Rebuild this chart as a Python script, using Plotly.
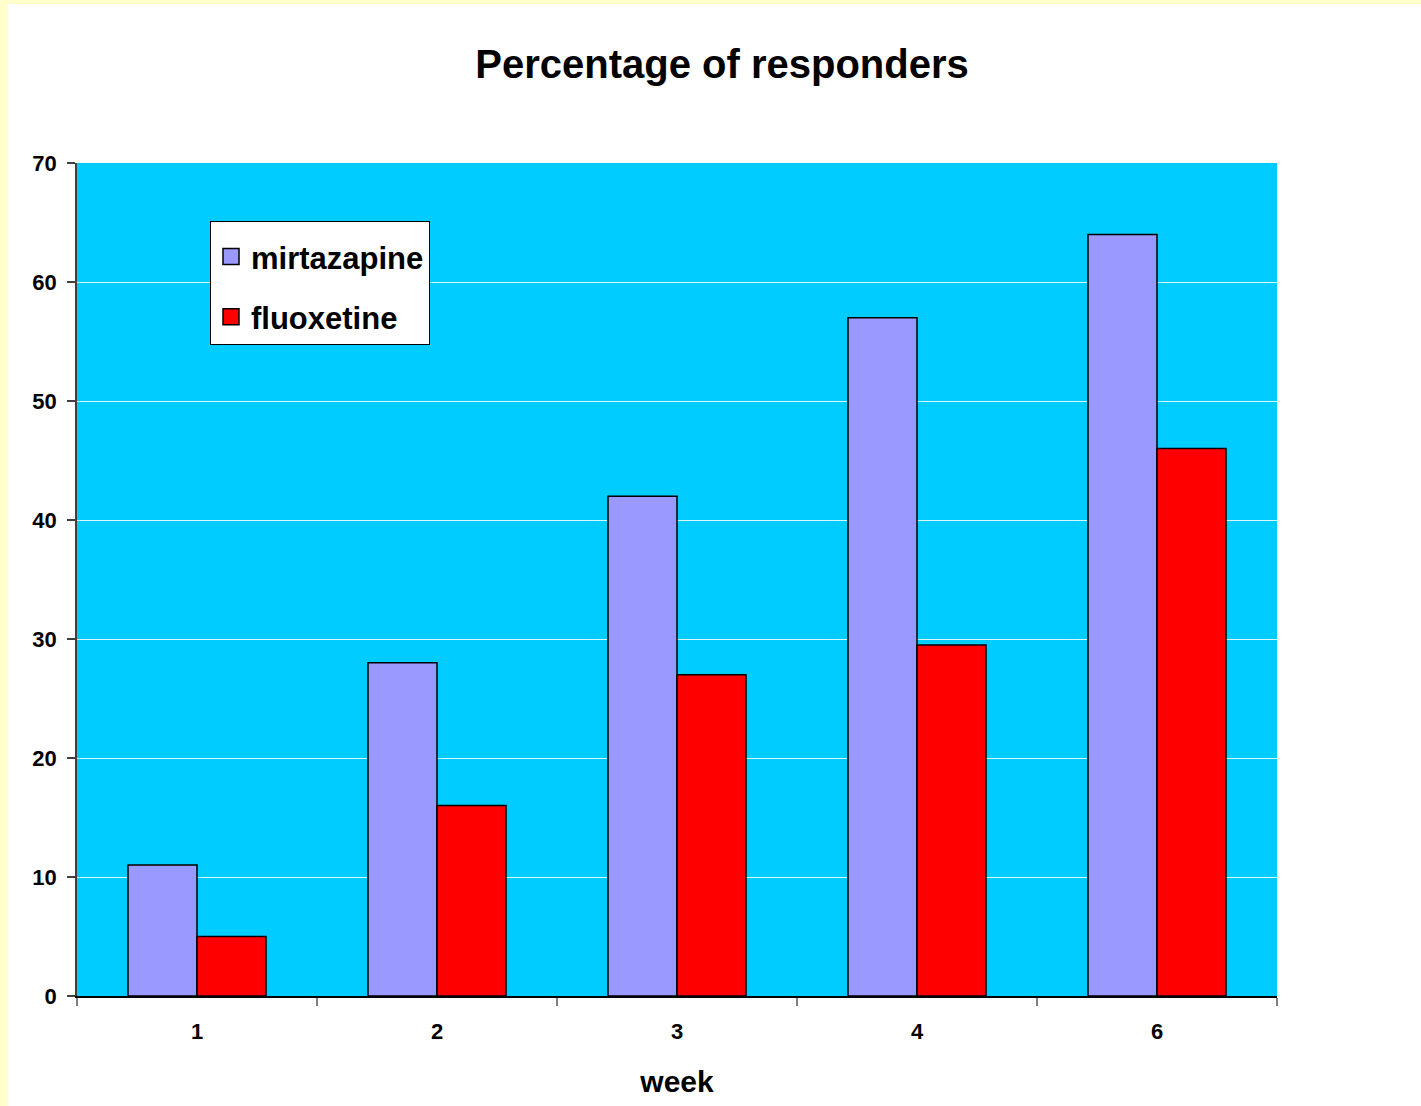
import plotly.graph_objects as go

weeks = ["1", "2", "3", "4", "6"]
mirtazapine = [11, 28, 42, 57, 64]
fluoxetine = [5, 16, 27, 29.5, 46]
y_ticks = [0, 10, 20, 30, 40, 50, 60, 70]
series_names = ["mirtazapine", "fluoxetine"]
series_colors = ["#9999FF", "#FF0000"]

FONT = "Arial, Liberation Sans, sans-serif"

fig = go.Figure()
for name, vals, col in zip(series_names, [mirtazapine, fluoxetine], series_colors):
    fig.add_trace(go.Bar(
        name=name, x=weeks, y=vals, showlegend=False,
        marker=dict(color=col, line=dict(color="#000000", width=1.5)),
    ))
# legend entries with larger square swatches
for i, (name, col) in enumerate(zip(series_names, series_colors)):
    fig.add_trace(go.Scatter(
        name=name, x=[None], y=[None], mode="markers", legendgroup=str(i),
        marker=dict(symbol="square", size=16, color=col, line=dict(color="#000000", width=1.5)),
    ))

W, H = 1421, 1106
L, R, T, B = 77, 144, 163, 110
pw, ph = W - L - R, H - T - B
def px_x(p): return (p - L) / pw
def px_y(p): return (H - B - p) / ph

# light yellow slide edge strips (left and top)
fig.add_shape(type="rect", xref="paper", yref="paper", x0=px_x(-2), x1=px_x(8),
              y0=px_y(H + 2), y1=px_y(-2), fillcolor="#FFFFCC", line=dict(width=0), layer="above")
fig.add_shape(type="rect", xref="paper", yref="paper", x0=px_x(-2), x1=px_x(W + 2),
              y0=px_y(4), y1=px_y(-2), fillcolor="#FFFFCC", line=dict(width=0), layer="above")

fig.update_layout(
    width=W, height=H,
    margin=dict(l=L, r=R, t=T, b=B, pad=0),
    paper_bgcolor="#FFFFFF",
    plot_bgcolor="#00CCFF",
    barmode="group",
    bargap=0.425,
    bargroupgap=0,
    font=dict(family=FONT, color="#000000"),
    title=dict(text="Percentage of responders", x=722 / W, xanchor="center",
               xref="container", y=1 - 64 / H, yanchor="middle", yref="container",
               font=dict(family=FONT, size=40, weight="bold", color="#000000")),
    legend=dict(x=px_x(210), y=px_y(221), xanchor="left", yanchor="top",
                bgcolor="#FFFFFF", bordercolor="#000000", borderwidth=1,
                font=dict(family=FONT, size=31, weight="bold", color="#000000"),
                title=dict(text=" ", font=dict(size=6)),
                tracegroupgap=17, traceorder="grouped", itemwidth=30),
    xaxis=dict(
        type="category", tickson="boundaries", ticks="outside", ticklen=8,
        tickcolor="#808080", tickwidth=1.5,
        showline=True, linecolor="#000000", linewidth=1.5,
        showgrid=False, ticklabelstandoff=15,
        tickfont=dict(family=FONT, size=22, weight="bold", color="#000000"),
        title=dict(text="week", standoff=28,
                   font=dict(family=FONT, size=30, weight="bold", color="#000000")),
    ),
    yaxis=dict(
        range=[0, 70], tickvals=y_ticks, ticks="outside", ticklen=8,
        tickcolor="#404040", tickwidth=1.5,
        showline=True, linecolor="#404040", linewidth=1.5,
        showgrid=True, gridcolor="rgba(255,255,255,0.85)", gridwidth=1,
        zeroline=False, ticklabelstandoff=6,
        tickfont=dict(family=FONT, size=22, weight="bold", color="#000000"),
    ),
)

fig.write_html("out.html", config={"displayModeBar": False},
               post_script="document.body.style.margin='0';")
